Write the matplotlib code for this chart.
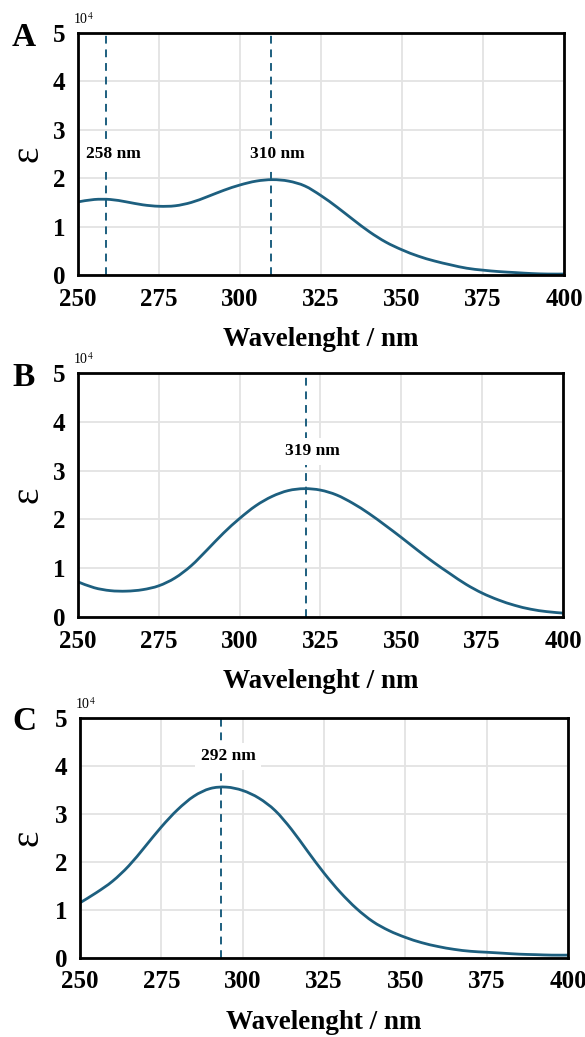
import numpy as np
import matplotlib.pyplot as plt
from matplotlib.path import Path
from matplotlib.patches import PathPatch

plt.rcParams['font.family'] = ['Liberation Serif', 'DejaVu Serif']
plt.rcParams['mathtext.fontset'] = 'stix'

# Wavelength grid (nm) shared by the three spectra
wavelength = [250, 255, 260, 265, 270, 275, 280, 285, 290, 295, 300, 305, 310, 315, 320,
              325, 330, 335, 340, 345, 350, 355, 360, 365, 370, 375, 380, 385, 390, 395, 400]

# Molar absorptivity (x 10^4)
eps_a = [1.51, 1.56, 1.56, 1.51, 1.45, 1.42, 1.43, 1.50, 1.62, 1.75, 1.86, 1.94, 1.97, 1.94, 1.84,
         1.64, 1.40, 1.14, 0.89, 0.68, 0.52, 0.39, 0.29, 0.21, 0.14, 0.10, 0.07, 0.05, 0.03, 0.02, 0.02]
eps_b = [0.72, 0.60, 0.54, 0.53, 0.56, 0.64, 0.80, 1.05, 1.38, 1.72, 2.02, 2.28, 2.47, 2.59, 2.63,
         2.60, 2.50, 2.33, 2.12, 1.88, 1.63, 1.37, 1.12, 0.89, 0.67, 0.49, 0.35, 0.24, 0.16, 0.11, 0.08]
eps_c = [1.15, 1.36, 1.60, 1.92, 2.32, 2.73, 3.09, 3.37, 3.53, 3.56, 3.49, 3.33, 3.07, 2.68, 2.22,
         1.77, 1.37, 1.03, 0.76, 0.57, 0.43, 0.32, 0.24, 0.18, 0.14, 0.12, 0.10, 0.08, 0.07, 0.06, 0.06]

# Peak markers: dashed line position, label text, label position
peaks_a = [258.5, 309.5]
peak_labels_a = ['258 nm', '310 nm']
label_pos_a = [(261, 2.5), (311.5, 2.5)]

peaks_b = [320.5]
peak_labels_b = ['319 nm']
label_pos_b = [(322.5, 3.4)]

peaks_c = [293.3]
peak_labels_c = ['292 nm']
label_pos_c = [(295.5, 4.2)]

xticks = [250, 275, 300, 325, 350, 375, 400]
yticks = [0, 1, 2, 3, 4, 5]

line_color = '#1d5f7f'
W, H = 585, 1037


def smooth_path(x, y):
    # Catmull-Rom through the read points, drawn as cubic Bezier segments
    x = np.asarray(x, float)
    y = np.asarray(y, float)
    verts = [(x[0], y[0])]
    codes = [Path.MOVETO]
    n = len(x)
    for i in range(n - 1):
        i0, i3 = max(i - 1, 0), min(i + 2, n - 1)
        c1 = (x[i] + (x[i + 1] - x[i0]) / 6, y[i] + (y[i + 1] - y[i0]) / 6)
        c2 = (x[i + 1] - (x[i3] - x[i]) / 6, y[i + 1] - (y[i3] - y[i]) / 6)
        verts += [c1, c2, (x[i + 1], y[i + 1])]
        codes += [Path.CURVE4] * 3
    return Path(verts, codes)


fig = plt.figure(figsize=(W / 100, H / 100), dpi=100)

panels = [
    ('A', (78, 33, 564, 275), eps_a, peaks_a, peak_labels_a, label_pos_a),
    ('B', (78, 373, 563, 617), eps_b, peaks_b, peak_labels_b, label_pos_b),
    ('C', (80, 718, 568, 958), eps_c, peaks_c, peak_labels_c, label_pos_c),
]

for letter, (x0, y0, x1, y1), eps, peaks, plabels, lpos in panels:

    # Axes placed in pixel coordinates of the reference
    ax = fig.add_axes([x0 / W, 1 - y1 / H, (x1 - x0) / W, (y1 - y0) / H])
    ax.set_xlim(250, 400)
    ax.set_ylim(0, 5)
    ax.set_xticks(xticks)
    ax.set_yticks(yticks)
    ax.grid(True, color='#e3e3e3', linewidth=1.3)
    ax.set_axisbelow(True)
    for sp in ax.spines.values():
        sp.set_linewidth(2.0)
        sp.set_color('black')
        sp.set_zorder(5)
    ax.tick_params(length=0, labelsize=18, pad=9)
    for lab in ax.get_xticklabels() + ax.get_yticklabels():
        lab.set_fontweight('bold')

    # Spectrum and peak markers
    ax.add_patch(PathPatch(smooth_path(wavelength, eps), facecolor='none', edgecolor=line_color,
                           linewidth=2.0, zorder=3, clip_on=True))
    for p in peaks:
        ax.axvline(p, color=line_color, linewidth=1.4, linestyle=(0, (4, 3)), zorder=2)
    for txt, (tx, ty) in zip(plabels, lpos):
        ax.text(tx, ty, txt, ha='center', va='center', fontsize=12.5, fontweight='bold', zorder=4,
                bbox=dict(facecolor='white', edgecolor='none', pad=4))

    ax.set_xlabel('Wavelenght / nm', fontsize=19.5, fontweight='bold', labelpad=12)

    # Panel decorations
    yc = 1 - (y0 + y1) / 2 / H
    fig.text(28 / W, yc, 'ε', rotation=90, ha='center', va='center', fontsize=28)
    fig.text(x0 / W - 5 / W, 1 - (y0 - 14) / H, r'10$^{4}$', ha='left', va='center', fontsize=10)
    fig.text(24 / W, 1 - (y0 + 4) / H, letter, ha='center', va='center', fontsize=24, fontweight='bold')

fig.savefig('out.png', dpi=100)
